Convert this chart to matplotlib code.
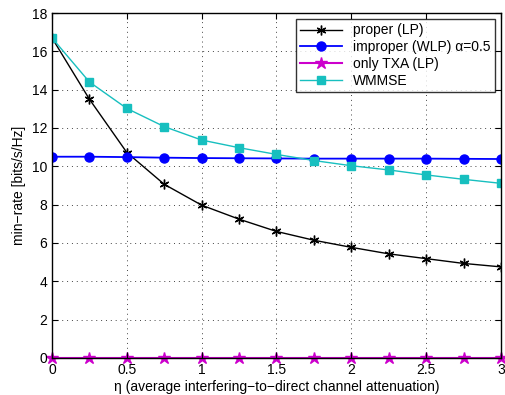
import matplotlib
matplotlib.use("Agg")
import matplotlib.pyplot as plt

plt.rcParams['font.family'] = ['Liberation Sans', 'DejaVu Sans']

eta = [0, 0.25, 0.5, 0.75, 1.0, 1.25, 1.5, 1.75, 2.0, 2.25, 2.5, 2.75, 3.0]
proper = [16.7, 13.5, 10.72, 9.06, 7.97, 7.24, 6.6, 6.14, 5.77, 5.43, 5.18, 4.93, 4.75]
improper = [10.5, 10.5, 10.48, 10.45, 10.43, 10.42, 10.41, 10.4, 10.4, 10.4, 10.4, 10.39, 10.38]
only_txa = [0] * 13
wmmse = [16.7, 14.4, 13.02, 12.07, 11.37, 10.97, 10.62, 10.3, 10.03, 9.81, 9.55, 9.32, 9.11]

labels = ['proper (LP)', 'improper (WLP) α=0.5', 'only TXA (LP)', 'WMMSE']

fig = plt.figure(figsize=(5.05, 3.95), dpi=100)
ax = fig.add_axes([0.103, 0.094, 0.889, 0.873])

ax.plot(eta, proper, color='black', lw=1, marker=(6, 2, 0), ms=7, mew=1, label=labels[0])
ax.plot(eta, improper, color='#0000ff', lw=1.3, marker='o', ms=6.5, label=labels[1])
ax.plot(eta, only_txa, color='#cc00cc', lw=1.5, marker='*', ms=9, label=labels[2],
        clip_on=False, zorder=1.5)
ax.plot(eta, wmmse, color='#17bfbf', lw=1, marker='s', ms=6, label=labels[3])

ax.set_xlim(0, 3)
ax.set_ylim(0, 18)
ax.set_xticks([0, 0.5, 1, 1.5, 2, 2.5, 3])
ax.set_xticklabels(['0', '0.5', '1', '1.5', '2', '2.5', '3'])
ax.set_yticks(range(0, 19, 2))
ax.grid(True, linestyle=(0, (1, 4)), color='#444444', lw=0.7)
ax.tick_params(direction='in', top=True, right=True, labelsize=10, length=4)
for s in ax.spines.values():
    s.set_linewidth(1)
ax.set_xlabel('η (average interfering−to−direct channel attenuation)', fontsize=10, labelpad=2)
ax.set_ylabel('min−rate [bits/s/Hz]', fontsize=10, labelpad=4)

leg = ax.legend(loc='upper right', fontsize=10, frameon=True, fancybox=False,
                edgecolor='black', borderpad=0.3, labelspacing=0.2, handlelength=3.0,
                borderaxespad=0.45)
leg.get_frame().set_linewidth(1)

fig.savefig('out.png', dpi=100)
